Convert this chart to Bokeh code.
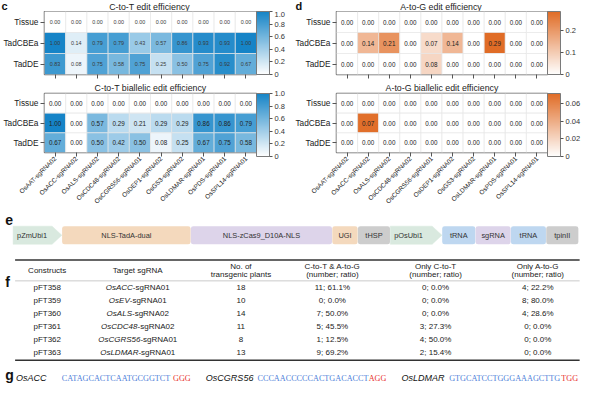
import numpy as np
from math import pi
from bokeh.plotting import figure
from bokeh.models import (ColumnDataSource, LinearColorMapper, ColorBar, FixedTicker,
                          CustomJSTickFormatter, Range1d, FactorRange, Title)
from bokeh.layouts import column, row
from bokeh.embed import file_html
from bokeh.resources import INLINE
from bokeh.core.properties import value

FONT = "Liberation Sans"
SERIF = "Liberation Serif"

# ---------------- data ----------------
sgrnas = ["OsAAT-sgRNA02", "OsACC-sgRNA02", "OsALS-sgRNA02", "OsCDC48-sgRNA02",
          "OsCGRS56-sgRNA01", "OsDEP1-sgRNA02", "OsGS3-sgRNA02", "OsLDMAR-sgRNA01",
          "OsPDS-sgRNA01", "OsSPL14-sgRNA01"]
row_names = ["Tissue", "TadCBEa", "TadDE"]

ct_edit_tissue = [0.00, 0.00, 0.00, 0.00, 0.00, 0.00, 0.00, 0.00, 0.00, 0.00]
ct_edit_cbe = [1.00, 0.14, 0.79, 0.79, 0.43, 0.57, 0.86, 0.93, 0.93, 1.00]
ct_edit_de = [0.83, 0.08, 0.75, 0.58, 0.75, 0.25, 0.50, 0.75, 0.92, 0.67]

ct_bi_tissue = [0.00, 0.00, 0.00, 0.00, 0.00, 0.00, 0.00, 0.00, 0.00, 0.00]
ct_bi_cbe = [1.00, 0.00, 0.57, 0.29, 0.21, 0.29, 0.29, 0.86, 0.86, 0.79]
ct_bi_de = [0.67, 0.00, 0.50, 0.42, 0.50, 0.08, 0.25, 0.67, 0.75, 0.58]

ag_edit_tissue = [0.00, 0.00, 0.00, 0.00, 0.00, 0.00, 0.00, 0.00, 0.00, 0.00]
ag_edit_cbe = [0.00, 0.14, 0.21, 0.00, 0.07, 0.14, 0.00, 0.29, 0.00, 0.00]
ag_edit_de = [0.00, 0.00, 0.00, 0.00, 0.08, 0.00, 0.00, 0.00, 0.00, 0.00]

ag_bi_tissue = [0.00, 0.00, 0.00, 0.00, 0.00, 0.00, 0.00, 0.00, 0.00, 0.00]
ag_bi_cbe = [0.00, 0.07, 0.00, 0.00, 0.00, 0.00, 0.00, 0.00, 0.00, 0.00]
ag_bi_de = [0.00, 0.00, 0.00, 0.00, 0.00, 0.00, 0.00, 0.00, 0.00, 0.00]

ct_ticks = [0, 0.2, 0.4, 0.6, 0.8, 1.0]
ag_edit_ticks = [0, 0.1, 0.2]
ag_bi_ticks = [0, 0.02, 0.04, 0.06]

top_titles = ["C-to-T edit efficiency", "A-to-G edit efficiency"]
top_letters = ["c", "d"]
bottom_titles = ["C-to-T biallelic edit efficiency", "A-to-G biallelic edit efficiency"]

elements = ["pZmUbi1", "NLS-TadA-dual", "NLS-zCas9_D10A-NLS", "UGI", "tHSP",
            "pOsUbi1", "tRNA", "sgRNA", "tRNA", "tpinII"]
element_len = [50, 132, 145, 26, 33, 53, 34, 36, 36, 33]
element_is_promoter = [True, False, False, False, False, True, False, False, False, False]
element_colors = ["#d9e9df", "#f4d9bd", "#ddd4ea", "#f4d9bd", "#cdcdcd",
                  "#d9e9df", "#bed7f0", "#ddd4ea", "#bed7f0", "#cdcdcd"]

constructs = ["pFT358", "pFT359", "pFT360", "pFT361", "pFT362", "pFT363"]
target_genes = ["OsACC", "OsEV", "OsALS", "OsCDC48", "OsCGRS56", "OsLDMAR"]
target_sgrna = ["-sgRNA01", "-sgRNA01", "-sgRNA02", "-sgRNA02", "-sgRNA01", "-sgRNA01"]
n_plants = [18, 10, 14, 11, 8, 13]
both_n = [11, 0, 7, 5, 1, 9]
both_pct = [61.1, 0.0, 50.0, 45.5, 12.5, 69.2]
only_ct_n = [0, 0, 0, 3, 4, 2]
only_ct_pct = [0.0, 0.0, 0.0, 27.3, 50.0, 15.4]
only_ag_n = [4, 8, 4, 0, 0, 0]
only_ag_pct = [22.2, 80.0, 28.6, 0.0, 0.0, 0.0]
header_lines = [["Constructs"], ["Target sgRNA"], ["No. of", "transgenic plants"],
                ["C-to-T & A-to-G", "(number; ratio)"], ["Only C-to-T", "(number; ratio)"],
                ["Only A-to-G", "(number; ratio)"]]

seq_genes = ["OsACC", "OsCGRS56", "OsLDMAR"]
seq_spacers = ["CATAGCACTCAATGCGGTCT", "CCCAACCCCCACTGACACCT", "GTGCATCCTGGGAAAGCTTG"]
seq_pams = ["GGG", "AGG", "TGG"]

# ---------------- helpers ----------------
def make_palette(hi, n=256):
    pal = []
    for i in range(n):
        t = i / (n - 1)
        c = [int(round(255 + (h - 255) * t)) for h in hi]
        pal.append("#%02x%02x%02x" % tuple(c))
    return pal

BLUE = make_palette((22, 132, 199))
ORANGE = make_palette((224, 108, 38))

SANS_W = {'O': .778, 's': .5, 'A': .667, 'C': .722, 'E': .667, 'V': .667, 'L': .556,
          'S': .667, 'D': .722, 'G': .778, 'R': .722, 'M': .833, 'N': .722, '-': .333,
          'g': .556, ' ': .278}
SERIF_W = {'A': .722, 'C': .667, 'G': .722, 'T': .611}

def text_w(s, table, px, default=0.556):
    return sum(table.get(ch, default) for ch in s) * px

SX = 584 / 600.0  # page px per reference px (horizontal)
FIG_W = 292
LEFT = 42
RIGHTS = [36, 37]


def heatmap(title, tissue, cbe, de, pal, high, ticks, digits, right,
            top, frame_h, bottom, show_labels, val_size="6.3px", val_color="#222222"):
    xs = sgrnas * 3
    ys = ["Tissue"] * 10 + ["TadCBEa"] * 10 + ["TadDE"] * 10
    vals = list(tissue) + list(cbe) + list(de)
    src = ColumnDataSource(dict(x=xs, y=ys, v=vals, t=["%.2f" % v for v in vals]))
    p = figure(x_range=FactorRange(*sgrnas), y_range=FactorRange(*row_names[::-1]),
               width=FIG_W, height=top + frame_h + bottom, output_backend="svg",
               toolbar_location=None, min_border_left=LEFT, min_border_right=right,
               min_border_top=top, min_border_bottom=bottom, title=None)
    if title:
        p.add_layout(Title(text=title, align="center", text_font=FONT,
                           text_font_size="8.8px", text_font_style="normal",
                           text_color="#222222", standoff=1, offset=0), "above")
    mapper = LinearColorMapper(palette=pal, low=0, high=high)
    p.rect(x="x", y="y", width=1, height=1, source=src,
           fill_color={"field": "v", "transform": mapper},
           line_color="#e6e6e6", line_width=0.7)
    p.text(x="x", y="y", text="t", source=src, text_align="center",
           text_baseline="middle", text_font_size=val_size, text_color=val_color,
           text_font=value(FONT))
    p.grid.grid_line_color = None
    p.outline_line_color = "#6a6a6a"
    p.outline_line_width = 1.5
    p.axis.axis_line_color = None
    p.axis.major_tick_line_color = "#555555"
    p.axis.major_tick_in = 0
    p.axis.major_tick_out = 4
    p.axis.major_label_text_font = FONT
    p.axis.major_label_text_color = "#222222"
    p.yaxis.major_label_text_font_size = "8.3px"
    p.yaxis.major_label_standoff = 2
    if show_labels:
        p.xaxis.major_label_orientation = pi / 4
        p.xaxis.major_label_text_font_size = "6.4px"
        p.xaxis.major_label_standoff = 1
    else:
        p.xaxis.major_label_text_font_size = "1px"
        p.xaxis.major_label_text_color = None
        p.xaxis.major_label_standoff = 0
    code = "return tick == 0 ? '0' : tick.toFixed(%d);" % digits
    cb = ColorBar(color_mapper=mapper, ticker=FixedTicker(ticks=ticks),
                  formatter=CustomJSTickFormatter(code=code),
                  width=13, height=frame_h, padding=0, margin=6,
                  major_tick_in=0, major_tick_out=3, major_tick_line_color="#555555",
                  bar_line_color="#7a7a7a", bar_line_width=1,
                  border_line_color=None, background_fill_alpha=0,
                  major_label_text_font_size="7.5px", major_label_text_font=FONT,
                  major_label_text_color="#333333", label_standoff=2)
    p.add_layout(cb, "right")
    return p

# ---------------- heading strip (panel letters c, d and first titles) ----------------
STRIP_H = 11
strip = figure(width=584, height=STRIP_H, x_range=Range1d(0, 584), y_range=Range1d(0, STRIP_H),
               output_backend="svg", toolbar_location=None, min_border=0,
               x_axis_type=None, y_axis_type=None, title=None)
strip.outline_line_color = None
strip.grid.visible = False
frame_centers = [LEFT + (FIG_W - LEFT - RIGHTS[0]) / 2,
                 FIG_W + LEFT + (FIG_W - LEFT - RIGHTS[1]) / 2]
strip.text(x=frame_centers, y=[1, 1], text=top_titles, text_align="center",
           text_baseline="bottom", text_font_size="8.8px", text_color="#222222",
           text_font=value(FONT))
strip.text(x=[1, FIG_W + 3], y=[0.5, 0.5], text=top_letters, text_align="left",
           text_baseline="bottom", text_font_size="11px", text_font_style="bold",
           text_color="#111111", text_font=value(FONT))

# ---------------- heatmaps ----------------
FH = 63
T1, B1, T2, B2 = 0, 6, 12, 55
c1 = heatmap(None, ct_edit_tissue, ct_edit_cbe, ct_edit_de, BLUE, 1.0,
             ct_ticks, 1, RIGHTS[0], T1, FH, B1, False, val_size="5.4px", val_color="#3a3a3a")
d1 = heatmap(None, ag_edit_tissue, ag_edit_cbe, ag_edit_de, ORANGE,
             2 / 7, ag_edit_ticks, 1, RIGHTS[1], T1, FH, B1, False)
c2 = heatmap(bottom_titles[0], ct_bi_tissue, ct_bi_cbe, ct_bi_de, BLUE,
             1.0, ct_ticks, 1, RIGHTS[0], T2, FH, B2, True)
d2 = heatmap(bottom_titles[1], ag_bi_tissue, ag_bi_cbe, ag_bi_de, ORANGE,
             1 / 14, ag_bi_ticks, 2, RIGHTS[1], T2, FH, B2, True)

top_h = STRIP_H + (T1 + FH + B1) + (T2 + FH + B2)
Q_H = 384 - top_h

# ---------------- lower panels (e, f, g) ----------------
q = figure(width=584, height=Q_H, x_range=Range1d(0, 600), y_range=Range1d(395, 212),
           output_backend="svg", toolbar_location=None, min_border=0,
           x_axis_type=None, y_axis_type=None, title=None)
q.outline_line_color = None
q.grid.visible = False

def txt(x, y, t, size, align="center", color="#222222", font=FONT, style="normal"):
    q.text(x=x, y=y, text=t, text_align=align, text_baseline="middle",
           text_font_size=size, text_color=color, text_font=value(font),
           text_font_style=style)

# panel letters
txt([5], [222.5], ["e"], "14px", align="left", color="#111111", style="bold")
txt([5], [287], ["f"], "14px", align="left", color="#111111", style="bold")
txt([5], [385], ["g"], "14px", align="left", color="#111111", style="bold")

# e: construct map
y0, y1 = 228.5, 247.5
yc = (y0 + y1) / 2
starts = 13 + np.concatenate([[0], np.cumsum(element_len[:-1])]) + 0.3 * np.arange(len(elements))
ends = starts + np.array(element_len)
r = 2.5
for s, e, prom, col, name in zip(starts, ends, element_is_promoter, element_colors, elements):
    if prom:
        q.patch([s, e - 10, e, e - 10, s], [y0, y0, yc, y1, y1],
                fill_color=col, line_color=col, line_width=0.5)
        txt([s + 4], [yc], [name], "7.4px", align="left", color="#333333")
    else:
        q.quad(left=[s + r], right=[e - r], top=[y0 + r], bottom=[y1 - r],
               fill_color=col, line_color=col, line_width=2 * r * SX, line_join="round")
        txt([(s + e) / 2], [yc], [name], "7.4px", color="#333333")

# f: table
col_x = [48, 141, 247, 341, 447, 552]
q.segment(x0=[15], x1=[595], y0=[264], y1=[264], line_color="#333333", line_width=1.4)
q.segment(x0=[15], x1=[595], y0=[286], y1=[286], line_color="#bdbdbd", line_width=0.8)
q.segment(x0=[15], x1=[595], y0=[369.5], y1=[369.5], line_color="#333333", line_width=1.4)
for cx, lines in zip(col_x, header_lines):
    if len(lines) == 1:
        txt([cx], [275], lines, "8px")
    else:
        txt([cx, cx], [270.5, 279], lines, "8px")

row_y = 293.5 + np.arange(len(constructs)) * 13.5
txt([col_x[0]] * 6, list(row_y), constructs, "8px")
TP = 8.0
for g, sfx, yy in zip(target_genes, target_sgrna, row_y):
    wg = text_w(g, SANS_W, TP) / SX
    ws = text_w(sfx, SANS_W, TP) / SX
    split = col_x[1] - (wg + ws) / 2 + wg
    txt([split], [yy], [g], "8px", align="right", style="italic")
    txt([split], [yy], [sfx], "8px", align="left")
txt([col_x[2]] * 6, list(row_y), [str(v) for v in n_plants], "8px")
txt([col_x[3]] * 6, list(row_y), ["%d; %.1f%%" % (a, b) for a, b in zip(both_n, both_pct)], "8px")
txt([col_x[4]] * 6, list(row_y), ["%d; %.1f%%" % (a, b) for a, b in zip(only_ct_n, only_ct_pct)], "8px")
txt([col_x[5]] * 6, list(row_y), ["%d; %.1f%%" % (a, b) for a, b in zip(only_ag_n, only_ag_pct)], "8px")

# g: target sequences
gene_x = [16, 211, 412]
seq_x = [63, 264, 461]
SP = 8.2
for gx, sx, g, sp, pam in zip(gene_x, seq_x, seq_genes, seq_spacers, seq_pams):
    txt([gx], [388], [g], "9px", align="left", style="italic", color="#111111")
    txt([sx], [388.5], [sp], "%.1fpx" % SP, align="left", color="#4f7fd9", font=SERIF)
    px = sx + text_w(sp, SERIF_W, SP) / SX
    txt([px], [388.5], [pam], "%.1fpx" % SP, align="left", color="#e8302c", font=SERIF)

layout = column(strip, row(c1, d1), row(c2, d2), q)
open("out.html", "w").write(file_html(layout, INLINE))
